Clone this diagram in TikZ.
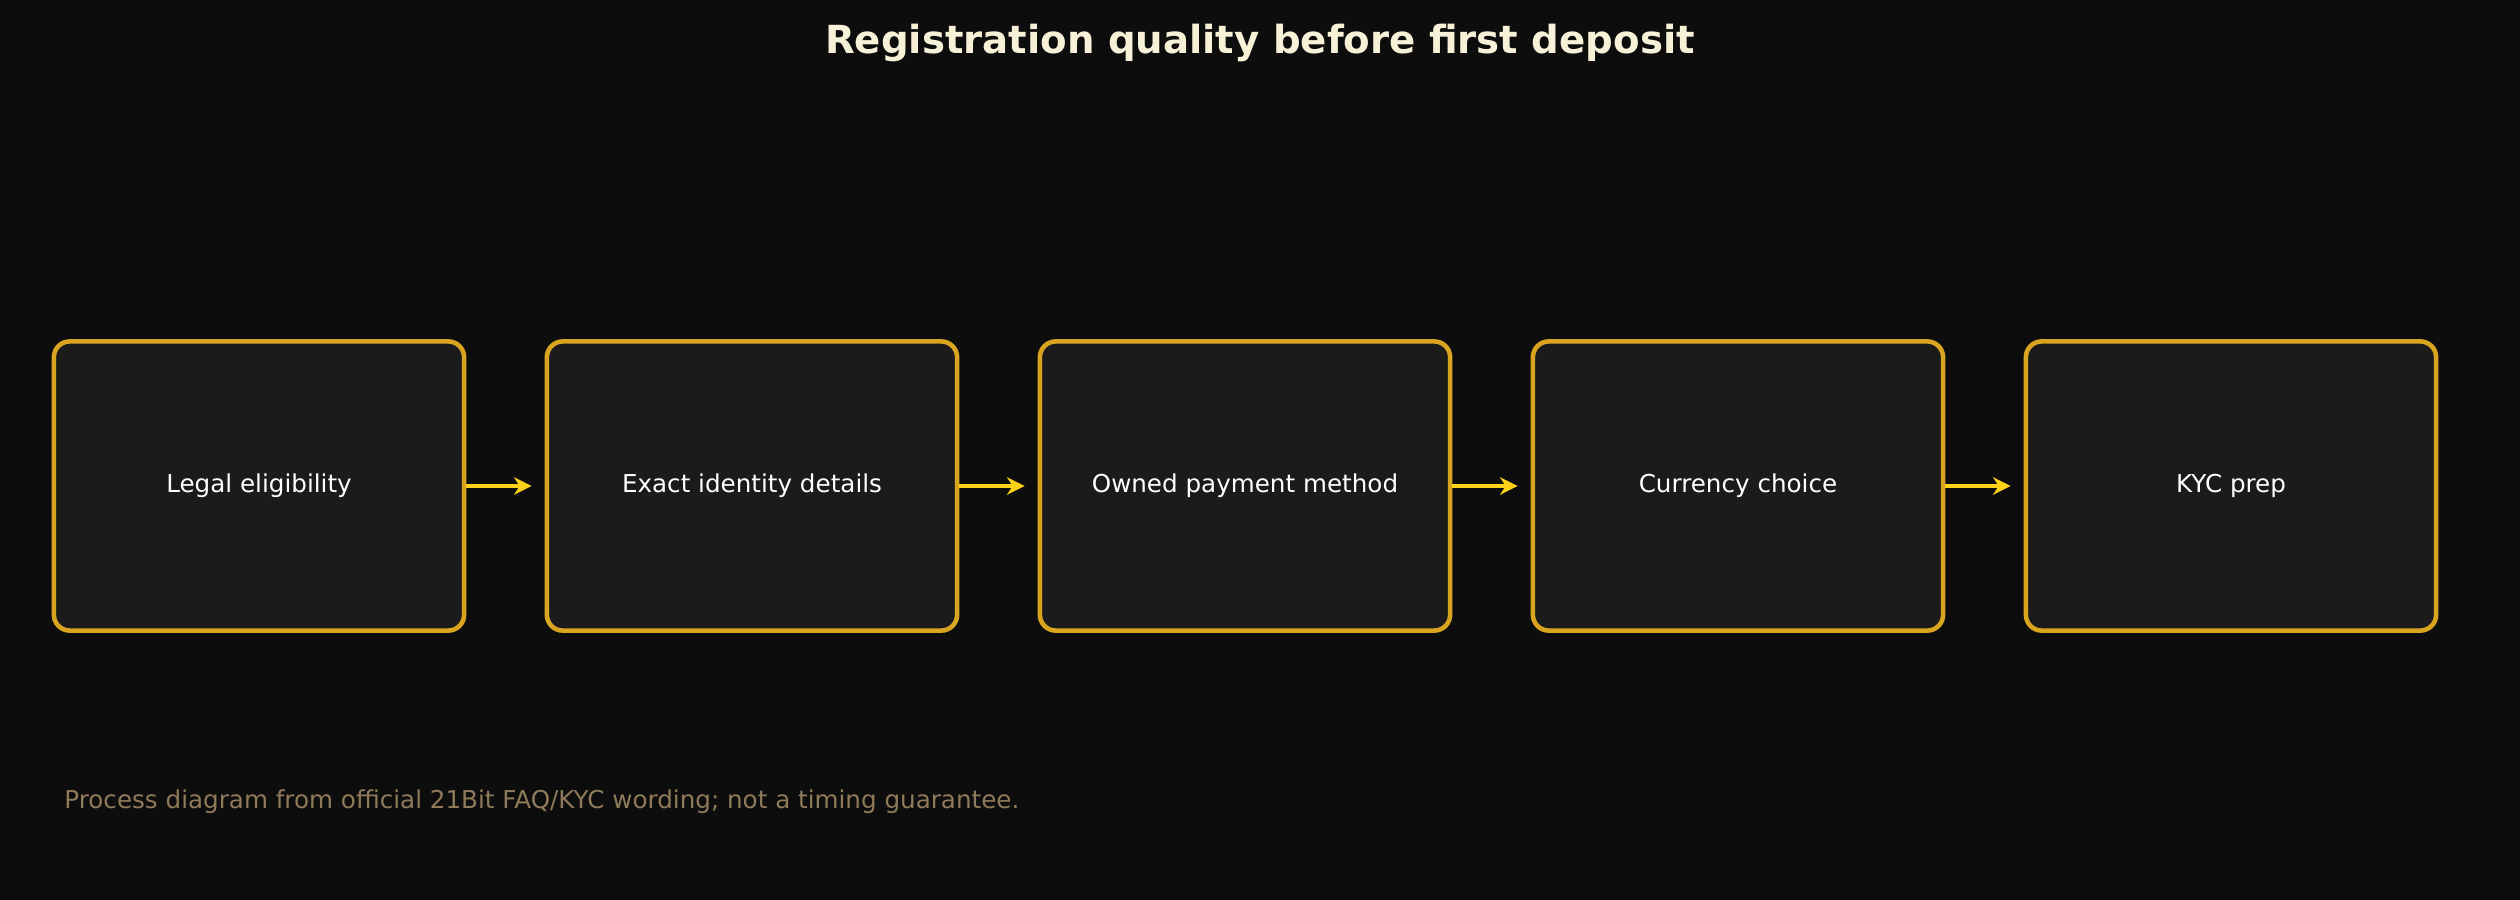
\documentclass[tikz,border=0pt]{standalone}
\usepackage{fontspec}
\setmainfont{DejaVu Sans}
\usetikzlibrary{arrows.meta}
\definecolor{bg}{HTML}{0D0D0D}
\definecolor{boxfill}{HTML}{1B1B1B}
\definecolor{gold}{HTML}{D9A521}
\definecolor{arr}{HTML}{FFD21A}
\definecolor{titlec}{HTML}{F7F1D8}
\definecolor{foot}{HTML}{8F7A5A}
\begin{document}
\begin{tikzpicture}[x=0.01cm,y=-0.01cm,
  stepbox/.style={draw=gold,line width=1.3pt,fill=boxfill,rounded corners=4.5pt,minimum width=4.1cm,minimum height=2.89cm,inner sep=0pt,text=white,font=\fontsize{7}{8}\selectfont},
  conn/.style={draw=arr,line width=1.3pt,-{Stealth[length=5pt,width=5pt]}}]
\fill[bg] (0,0) rectangle (2520,900);
\node[font=\fontsize{11}{13}\selectfont\bfseries,text=titlec] (title) at (1260,43) {Registration quality before first deposit};
\node[stepbox] (s1) at (259,486) {Legal eligibility};
\node[stepbox] (s2) at (752,486) {Exact identity details};
\node[stepbox] (s3) at (1245,486) {Owned payment method};
\node[stepbox] (s4) at (1738,486) {Currency choice};
\node[stepbox] (s5) at (2231,486) {KYC prep};
\foreach \a/\b in {s1/s2,s2/s3,s3/s4,s4/s5}
  \draw[conn] (\a.east) -- ([xshift=-0.13cm]\b.west);
\node[anchor=west,text=foot,font=\fontsize{7}{8}\selectfont] (note) at (52,802) {Process diagram from official 21Bit FAQ/KYC wording; not a timing guarantee.};
\end{tikzpicture}
\end{document}
